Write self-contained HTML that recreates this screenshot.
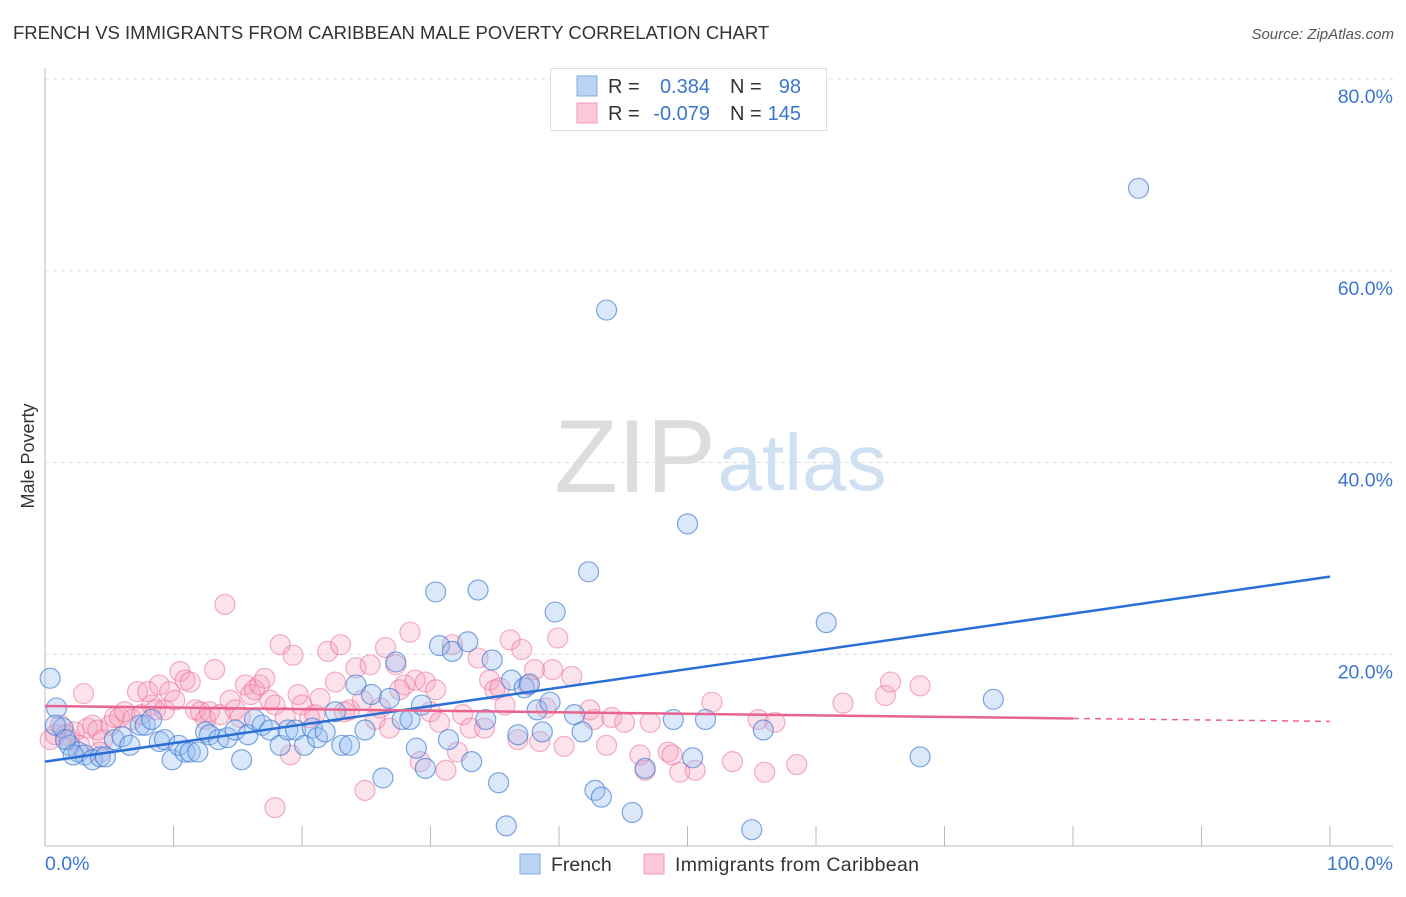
<!DOCTYPE html>
<html><head><meta charset="utf-8"><style>
body{margin:0;background:#fff;font-family:"Liberation Sans",sans-serif;}
svg text{font-family:"Liberation Sans",sans-serif;}
</style></head><body>
<svg id="chart" width="1406" height="892" viewBox="0 0 1406 892" xmlns="http://www.w3.org/2000/svg">
<text x="13" y="39" font-size="18.5" fill="#333">FRENCH VS IMMIGRANTS FROM CARIBBEAN MALE POVERTY CORRELATION CHART</text>
<text x="1394" y="39" font-size="15" fill="#555" text-anchor="end" font-style="italic">Source: ZipAtlas.com</text>
<g>
<text x="635" y="492" font-size="104" fill="#ddd" text-anchor="middle" font-family="Liberation Serif, serif">ZIP</text>
<text x="802" y="490" font-size="80" fill="#cfe0f3" text-anchor="middle">atlas</text>
</g>
<g id="grid"></g>
<g id="axes"></g>
<g id="points"></g>
<g id="trends"></g>
<text transform="translate(34,456) rotate(-90)" font-size="18" fill="#333" text-anchor="middle">Male Poverty</text>
<g>
<rect x="550.5" y="68.5" width="276" height="62" fill="#fff" stroke="#ddd"/>
<rect x="577" y="76" width="20" height="20" fill="#b9d3f3" stroke="#7eaee6"/>
<rect x="577" y="103" width="20" height="20" fill="#fbc9d7" stroke="#f29ab4"/>
<text x="608" y="93" font-size="20" fill="#333">R =</text>
<text x="710" y="93" font-size="20" fill="#3a76d0" text-anchor="end">0.384</text>
<text x="730" y="93" font-size="20" fill="#333">N =</text>
<text x="801" y="93" font-size="20" fill="#3a76d0" text-anchor="end">98</text>
<text x="608" y="120" font-size="20" fill="#333">R =</text>
<text x="710" y="120" font-size="20" fill="#3a76d0" text-anchor="end">-0.079</text>
<text x="730" y="120" font-size="20" fill="#333">N =</text>
<text x="801" y="120" font-size="20" fill="#3a76d0" text-anchor="end">145</text>
</g>
<g>
<rect x="520" y="854" width="20" height="20" fill="#b9d3f3" stroke="#7eaee6"/>
<text x="551" y="871" font-size="19.5" fill="#333">French</text>
<rect x="644" y="854" width="20" height="20" fill="#fbc9d7" stroke="#f29ab4"/>
<text x="675" y="871" font-size="19.5" fill="#333" textLength="244">Immigrants from Caribbean</text>
</g>
</svg>
<script>
const yTicks=[20,40,60,80];
const yTickLabels=["20.0%","40.0%","60.0%","80.0%"];
const xTicks=[0,10,20,30,40,50,60,70,80,90,100];
const frenchX=[0.4,0.9,1.4,1.9,2.6,3.1,3.7,4.3,4.7,5.4,6.0,6.6,7.4,7.8,8.3,8.9,9.3,9.9,10.4,10.9,11.3,11.9,12.5,12.8,13.5,14.2,14.8,15.3,15.8,16.3,16.9,17.5,18.3,18.9,19.5,20.2,20.8,21.2,21.8,22.6,23.1,23.7,24.2,24.9,25.4,26.3,26.8,27.3,27.8,28.4,28.9,29.3,29.6,30.4,30.7,31.4,31.7,32.9,33.2,33.7,34.3,34.8,35.3,35.9,36.3,36.8,37.3,37.7,38.3,38.7,39.3,39.7,41.2,41.8,42.3,42.8,43.3,43.7,45.7,46.7,48.9,50.0,50.4,51.4,55.0,55.9,60.8,68.1,73.8,85.1,0.8,1.6,2.2];
const frenchY=[17.5,14.4,12.3,10.5,9.8,9.5,9.0,9.3,9.3,11.1,11.4,10.5,12.6,12.6,13.2,10.9,11.1,9.0,10.5,9.8,9.8,9.8,11.9,11.6,11.1,11.3,12.1,9.0,11.6,13.2,12.6,12.1,10.5,12.1,12.1,10.5,12.3,11.3,11.9,14.0,10.5,10.5,16.8,12.1,15.8,7.1,15.4,19.2,13.2,13.2,10.2,14.7,8.1,26.5,20.9,11.1,20.3,21.3,8.8,26.7,13.2,19.4,6.6,2.1,17.3,11.6,16.5,16.9,14.2,11.9,15.0,24.4,13.7,11.9,28.6,5.8,5.1,55.9,3.5,8.1,13.2,33.6,9.2,13.2,1.7,12.1,23.3,9.3,15.3,68.6,12.6,11.1,9.5];
const caribX=[0.4,0.8,1.2,1.6,1.9,2.3,3.0,3.3,3.7,4.1,4.5,5.1,5.4,5.8,6.2,6.8,7.2,7.5,8.0,8.3,8.6,8.9,9.3,9.7,10.1,10.5,10.9,11.3,11.7,12.1,12.5,12.8,13.2,13.6,14.0,14.4,14.8,15.2,15.6,16.0,16.3,16.7,17.1,17.5,17.9,18.3,18.7,19.1,19.3,19.7,20.0,20.6,21.0,21.4,22.0,22.6,23.0,23.3,23.7,24.2,24.7,24.9,25.3,25.7,26.1,26.5,26.8,27.3,27.6,28.0,28.4,28.8,29.2,29.6,30.0,30.4,30.7,31.2,31.7,32.1,32.5,33.1,33.7,34.2,34.6,35.0,35.4,35.8,36.2,36.8,37.1,37.6,38.1,38.5,39.0,39.5,39.9,40.4,41.0,42.4,42.7,43.7,44.1,45.1,46.3,46.7,47.1,48.5,48.8,49.4,50.6,51.9,53.5,55.5,56.0,56.8,58.5,62.1,65.4,65.8,68.1,17.9,2.7,4.3];
const caribY=[11.1,11.6,12.6,11.6,11.1,11.9,15.9,12.3,12.6,12.1,11.1,12.6,13.4,13.4,14.0,13.2,16.1,13.7,16.1,14.7,14.2,16.8,14.2,16.1,15.2,18.2,17.3,17.1,14.2,14.0,13.2,14.0,18.4,13.7,25.2,15.2,14.2,13.4,16.8,15.8,16.3,16.8,17.5,15.2,14.7,21.0,13.4,9.5,19.9,15.8,14.7,13.4,13.7,15.4,20.3,17.1,21.0,14.0,14.2,18.6,15.2,5.8,18.9,13.2,14.4,20.7,12.3,18.9,16.3,16.8,22.3,17.3,8.8,17.1,14.0,16.3,12.9,7.9,21.0,9.8,13.7,12.3,19.6,12.3,17.3,16.3,16.5,14.7,21.5,11.1,20.5,16.8,18.4,10.9,14.4,18.4,21.7,10.4,17.7,14.2,13.2,10.5,13.4,12.9,9.5,7.9,12.9,9.8,9.5,7.7,7.9,15.0,8.8,13.2,7.7,12.9,8.5,14.9,15.7,17.1,16.7,4.0,10.5,9.8];
const frenchTrend=[8.8,28.1];
const caribTrend=[14.6,13.3,13.0];
const caribSolidEnd=80;

const X0=45,X1=1330,Y0=846,YTOP80=79;
function sx(v){return X0+(X1-X0)*v/100;}
function sy(v){return Y0-(Y0-YTOP80)*v/80;}
const NS="http://www.w3.org/2000/svg";
function mk(tag,attrs,parent){const e=document.createElementNS(NS,tag);for(const k in attrs)e.setAttribute(k,attrs[k]);parent.appendChild(e);return e;}
const grid=document.getElementById('grid'),axes=document.getElementById('axes'),pts=document.getElementById('points'),tr=document.getElementById('trends');
yTicks.forEach((t,i)=>{
  const l=mk('line',{x1:X0,x2:1393,y1:sy(t),y2:sy(t),stroke:'#ddd','stroke-dasharray':'4,4'},grid);
  
  
  const tx=mk('text',{x:1393,y:sy(t)+24,'font-size':19.5,fill:'#3a76d0','text-anchor':'end'},axes);
  tx.textContent=yTickLabels[i];
  
  
});
const ax=mk('line',{x1:X0,x2:X0,y1:68,y2:Y0,stroke:'#bbb'},axes);


const bx=mk('line',{x1:X0,x2:1393,y1:Y0,y2:Y0,stroke:'#bbb'},axes);


xTicks.forEach(t=>{
  const l=mk('line',{x1:sx(t),x2:sx(t),y1:826,y2:Y0,stroke:'#bbb'},axes);
  
  
});
const xl0=mk('text',{x:45,y:870,'font-size':19.5,fill:'#3a76d0'},axes);xl0.textContent='0.0%';


const xl1=mk('text',{x:1393,y:870,'font-size':19.5,fill:'#3a76d0','text-anchor':'end'},axes);xl1.textContent='100.0%';


caribX.forEach((x,i)=>{
  const c=mk('circle',{cx:sx(x),cy:sy(caribY[i]),r:10,fill:'rgba(246,160,188,0.3)',stroke:'rgba(236,110,150,0.55)','stroke-width':1.2},pts);
  
  
});
frenchX.forEach((x,i)=>{
  const c=mk('circle',{cx:sx(x),cy:sy(frenchY[i]),r:10,fill:'rgba(150,190,240,0.35)',stroke:'rgba(60,120,210,0.65)','stroke-width':1.2},pts);
  
  
});
const ft=mk('line',{x1:sx(0),y1:sy(frenchTrend[0]),x2:sx(100),y2:sy(frenchTrend[1]),stroke:'#2a6fd6','stroke-width':2.5},tr);


const ct=mk('line',{x1:sx(0),y1:sy(caribTrend[0]),x2:sx(caribSolidEnd),y2:sy(caribTrend[1]),stroke:'#e8648e','stroke-width':2.5},tr);


const cd=mk('line',{x1:sx(caribSolidEnd),y1:sy(caribTrend[1]),x2:sx(100),y2:sy(caribTrend[2]),stroke:'#e8648e','stroke-width':1.5,'stroke-dasharray':'6,5'},tr);


</script>
</body></html>
